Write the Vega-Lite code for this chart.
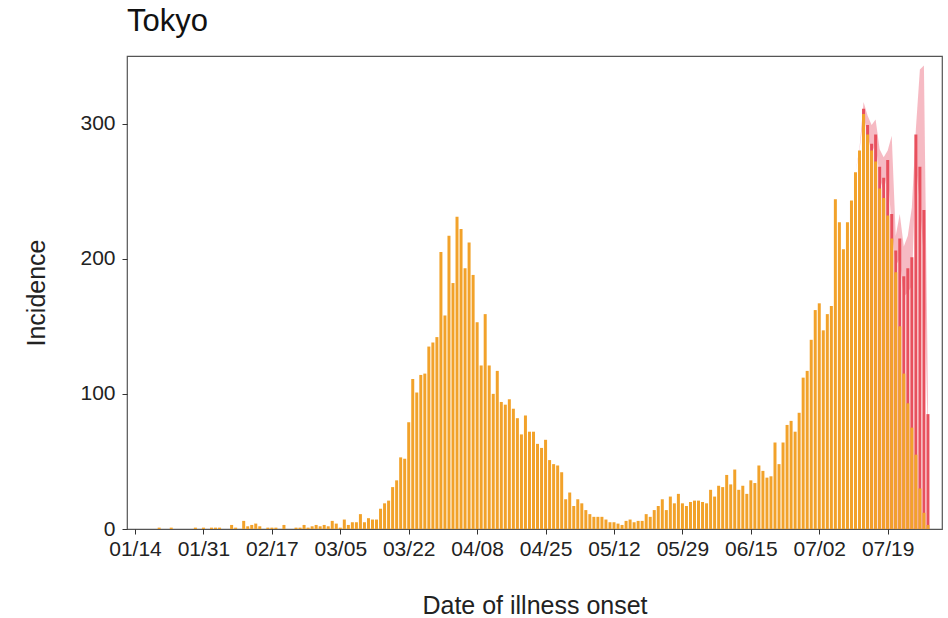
{
  "$schema": "https://vega.github.io/schema/vega-lite/v6.json",
  "width": 815,
  "height": 473,
  "autosize": {"type": "none"},
  "padding": {"left": 127, "top": 56, "right": 6, "bottom": 89},
  "background": "white",
  "title": {"text": "Tokyo", "anchor": "start", "frame": "group", "fontSize": 31, "font": "Liberation Sans", "fontWeight": "normal", "color": "#111", "offset": 18},
  "config": {
    "view": {"stroke": "#555", "strokeWidth": 1.2},
    "axis": {"grid": false, "domain": false, "tickColor": "#333", "tickSize": 5, "labelColor": "#222", "titleColor": "#222", "labelFont": "Liberation Sans", "titleFont": "Liberation Sans", "titleFontWeight": "normal", "labelFontSize": 21, "titleFontSize": 25}
  },
  "data": {"values": [
    {"date":"2020-01-14","obs":0},{"date":"2020-01-15","obs":0},{"date":"2020-01-16","obs":0},{"date":"2020-01-17","obs":0},{"date":"2020-01-18","obs":0},{"date":"2020-01-19","obs":0},{"date":"2020-01-20","obs":1},{"date":"2020-01-21","obs":0},{"date":"2020-01-22","obs":0},{"date":"2020-01-23","obs":1},{"date":"2020-01-24","obs":0},{"date":"2020-01-25","obs":0},{"date":"2020-01-26","obs":0},{"date":"2020-01-27","obs":0},{"date":"2020-01-28","obs":0},{"date":"2020-01-29","obs":1},{"date":"2020-01-30","obs":0},{"date":"2020-01-31","obs":1},
    {"date":"2020-02-01","obs":0},{"date":"2020-02-02","obs":1},{"date":"2020-02-03","obs":1},{"date":"2020-02-04","obs":1},{"date":"2020-02-05","obs":0},{"date":"2020-02-06","obs":0},{"date":"2020-02-07","obs":3},{"date":"2020-02-08","obs":1},{"date":"2020-02-09","obs":0},{"date":"2020-02-10","obs":6},{"date":"2020-02-11","obs":2},{"date":"2020-02-12","obs":3},{"date":"2020-02-13","obs":4},{"date":"2020-02-14","obs":2},{"date":"2020-02-15","obs":0},{"date":"2020-02-16","obs":1},{"date":"2020-02-17","obs":1},{"date":"2020-02-18","obs":1},{"date":"2020-02-19","obs":0},{"date":"2020-02-20","obs":3},{"date":"2020-02-21","obs":0},{"date":"2020-02-22","obs":0},{"date":"2020-02-23","obs":1},{"date":"2020-02-24","obs":1},{"date":"2020-02-25","obs":3},{"date":"2020-02-26","obs":1},{"date":"2020-02-27","obs":2},{"date":"2020-02-28","obs":3},{"date":"2020-02-29","obs":2},
    {"date":"2020-03-01","obs":3},{"date":"2020-03-02","obs":2},{"date":"2020-03-03","obs":6},{"date":"2020-03-04","obs":4},{"date":"2020-03-05","obs":1},{"date":"2020-03-06","obs":7},{"date":"2020-03-07","obs":3},{"date":"2020-03-08","obs":5},{"date":"2020-03-09","obs":5},{"date":"2020-03-10","obs":11},{"date":"2020-03-11","obs":5},{"date":"2020-03-12","obs":8},{"date":"2020-03-13","obs":7},{"date":"2020-03-14","obs":7},{"date":"2020-03-15","obs":15},{"date":"2020-03-16","obs":19},{"date":"2020-03-17","obs":21},{"date":"2020-03-18","obs":31},{"date":"2020-03-19","obs":36},{"date":"2020-03-20","obs":53},{"date":"2020-03-21","obs":52},{"date":"2020-03-22","obs":79},{"date":"2020-03-23","obs":111},{"date":"2020-03-24","obs":101},{"date":"2020-03-25","obs":114},{"date":"2020-03-26","obs":115},{"date":"2020-03-27","obs":135},{"date":"2020-03-28","obs":138},{"date":"2020-03-29","obs":142},{"date":"2020-03-30","obs":205},{"date":"2020-03-31","obs":158},
    {"date":"2020-04-01","obs":217},{"date":"2020-04-02","obs":182},{"date":"2020-04-03","obs":231},{"date":"2020-04-04","obs":222},{"date":"2020-04-05","obs":193},{"date":"2020-04-06","obs":212},{"date":"2020-04-07","obs":188},{"date":"2020-04-08","obs":153},{"date":"2020-04-09","obs":121},{"date":"2020-04-10","obs":159},{"date":"2020-04-11","obs":121},{"date":"2020-04-12","obs":100},{"date":"2020-04-13","obs":117},{"date":"2020-04-14","obs":94},{"date":"2020-04-15","obs":92},{"date":"2020-04-16","obs":96},{"date":"2020-04-17","obs":89},{"date":"2020-04-18","obs":82},{"date":"2020-04-19","obs":70},{"date":"2020-04-20","obs":84},{"date":"2020-04-21","obs":72},{"date":"2020-04-22","obs":72},{"date":"2020-04-23","obs":63},{"date":"2020-04-24","obs":60},{"date":"2020-04-25","obs":66},{"date":"2020-04-26","obs":51},{"date":"2020-04-27","obs":48},{"date":"2020-04-28","obs":47},{"date":"2020-04-29","obs":42},{"date":"2020-04-30","obs":22},
    {"date":"2020-05-01","obs":27},{"date":"2020-05-02","obs":17},{"date":"2020-05-03","obs":22},{"date":"2020-05-04","obs":19},{"date":"2020-05-05","obs":14},{"date":"2020-05-06","obs":11},{"date":"2020-05-07","obs":9},{"date":"2020-05-08","obs":9},{"date":"2020-05-09","obs":9},{"date":"2020-05-10","obs":7},{"date":"2020-05-11","obs":5},{"date":"2020-05-12","obs":5},{"date":"2020-05-13","obs":4},{"date":"2020-05-14","obs":3},{"date":"2020-05-15","obs":6},{"date":"2020-05-16","obs":7},{"date":"2020-05-17","obs":5},{"date":"2020-05-18","obs":6},{"date":"2020-05-19","obs":6},{"date":"2020-05-20","obs":11},{"date":"2020-05-21","obs":9},{"date":"2020-05-22","obs":14},{"date":"2020-05-23","obs":17},{"date":"2020-05-24","obs":22},{"date":"2020-05-25","obs":14},{"date":"2020-05-26","obs":24},{"date":"2020-05-27","obs":19},{"date":"2020-05-28","obs":26},{"date":"2020-05-29","obs":19},{"date":"2020-05-30","obs":17},{"date":"2020-05-31","obs":20},
    {"date":"2020-06-01","obs":21},{"date":"2020-06-02","obs":21},{"date":"2020-06-03","obs":20},{"date":"2020-06-04","obs":19},{"date":"2020-06-05","obs":29},{"date":"2020-06-06","obs":24},{"date":"2020-06-07","obs":32},{"date":"2020-06-08","obs":31},{"date":"2020-06-09","obs":40},{"date":"2020-06-10","obs":33},{"date":"2020-06-11","obs":44},{"date":"2020-06-12","obs":29},{"date":"2020-06-13","obs":32},{"date":"2020-06-14","obs":26},{"date":"2020-06-15","obs":36},{"date":"2020-06-16","obs":34},{"date":"2020-06-17","obs":47},{"date":"2020-06-18","obs":43},{"date":"2020-06-19","obs":38},{"date":"2020-06-20","obs":39},{"date":"2020-06-21","obs":64},{"date":"2020-06-22","obs":48},{"date":"2020-06-23","obs":64},{"date":"2020-06-24","obs":77},{"date":"2020-06-25","obs":80},{"date":"2020-06-26","obs":72},{"date":"2020-06-27","obs":86},{"date":"2020-06-28","obs":112},{"date":"2020-06-29","obs":117},{"date":"2020-06-30","obs":140},
    {"date":"2020-07-01","obs":162},{"date":"2020-07-02","obs":167},{"date":"2020-07-03","obs":147},{"date":"2020-07-04","obs":159},{"date":"2020-07-05","obs":165},{"date":"2020-07-06","obs":244},{"date":"2020-07-07","obs":227},{"date":"2020-07-08","obs":207},{"date":"2020-07-09","obs":227},{"date":"2020-07-10","obs":243},
    {"date":"2020-07-11","obs":264,"lo":264,"hi":264},{"date":"2020-07-12","obs":280,"lo":280,"hi":282},
    {"date":"2020-07-13","obs":307,"est":311,"lo":306,"hi":316},{"date":"2020-07-14","obs":292,"est":299,"lo":292,"hi":306},{"date":"2020-07-15","obs":280,"est":285,"lo":278,"hi":299},{"date":"2020-07-16","obs":272,"est":292,"lo":285,"hi":303},{"date":"2020-07-17","obs":252,"est":268,"lo":260,"hi":281},{"date":"2020-07-18","obs":245,"est":260,"lo":250,"hi":275},{"date":"2020-07-19","obs":232,"est":273,"lo":265,"hi":280},{"date":"2020-07-20","obs":215,"est":233,"lo":222,"hi":291},{"date":"2020-07-21","obs":190,"est":206,"lo":195,"hi":217},{"date":"2020-07-22","obs":150,"est":215,"lo":200,"hi":233},{"date":"2020-07-23","obs":115,"est":187,"lo":172,"hi":209},{"date":"2020-07-24","obs":93,"est":193,"lo":175,"hi":217},{"date":"2020-07-25","obs":75,"est":201,"lo":180,"hi":238},{"date":"2020-07-26","obs":55,"est":292,"lo":270,"hi":296},{"date":"2020-07-27","obs":30,"est":268,"lo":240,"hi":340},{"date":"2020-07-28","obs":12,"est":236,"lo":200,"hi":343},{"date":"2020-07-29","obs":3,"est":85,"lo":60,"hi":100}
  ]},
  "encoding": {
    "x": {
      "field": "date", "type": "temporal",
      "scale": {"type": "utc", "domain": [{"year": 2020, "month": 1, "date": 13, "hours": 6, "utc": true}, {"year": 2020, "month": 7, "date": 31, "hours": 6, "utc": true}]},
      "axis": {
        "title": "Date of illness onset", "titlePadding": 34, "labelPadding": 4, "labelExpr": "utcFormat(datum.value, '%m/%d')", "labelOverlap": false, "labelFlush": false,
        "values": [
          {"year": 2020, "month": 1, "date": 14, "utc": true}, {"year": 2020, "month": 1, "date": 31, "utc": true}, {"year": 2020, "month": 2, "date": 17, "utc": true}, {"year": 2020, "month": 3, "date": 5, "utc": true}, {"year": 2020, "month": 3, "date": 22, "utc": true}, {"year": 2020, "month": 4, "date": 8, "utc": true}, {"year": 2020, "month": 4, "date": 25, "utc": true}, {"year": 2020, "month": 5, "date": 12, "utc": true}, {"year": 2020, "month": 5, "date": 29, "utc": true}, {"year": 2020, "month": 6, "date": 15, "utc": true}, {"year": 2020, "month": 7, "date": 2, "utc": true}, {"year": 2020, "month": 7, "date": 19, "utc": true}
        ]
      }
    }
  },
  "layer": [
    {
      "transform": [{"filter": "datum.hi != null"}],
      "mark": {"type": "area", "color": "#F5B3BC", "opacity": 0.9, "interpolate": "linear"},
      "encoding": {
        "y": {"field": "hi", "type": "quantitative", "scale": {"domain": [0, 350], "nice": false}},
        "y2": {"field": "lo"}
      }
    },
    {
      "transform": [{"filter": "datum.est != null"}],
      "mark": {"type": "bar", "width": 3, "color": "#E8505D"},
      "encoding": {
        "y": {"field": "est", "type": "quantitative"}
      }
    },
    {
      "mark": {"type": "bar", "width": 3, "color": "#F2A22A"},
      "encoding": {
        "y": {"field": "obs", "type": "quantitative", "scale": {"domain": [0, 350], "nice": false},
          "axis": {"title": "Incidence", "values": [0, 100, 200, 300], "labelPadding": 7, "titlePadding": 30}}
      }
    }
  ]
}
